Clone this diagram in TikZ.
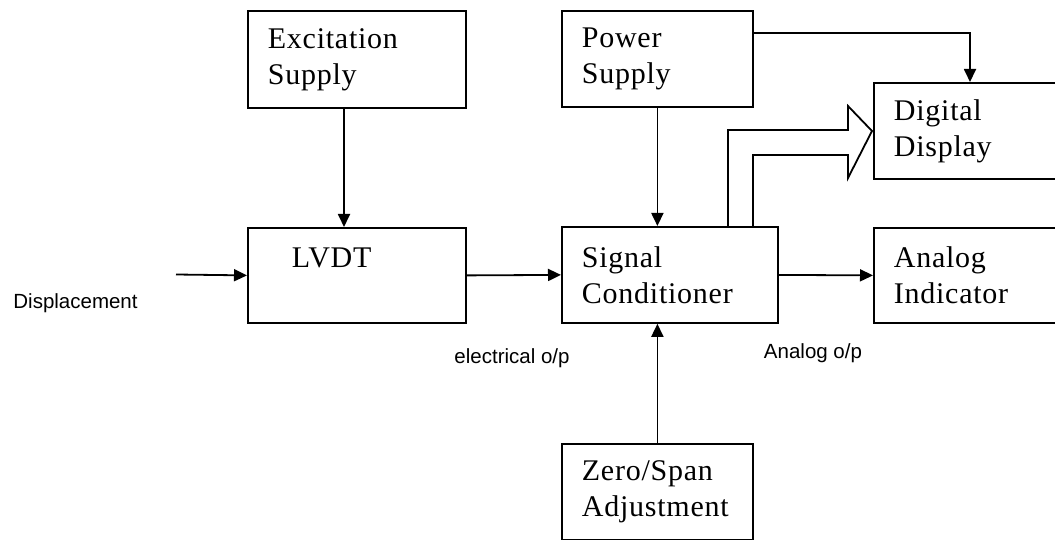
\documentclass[tikz,border=0pt]{standalone}
\usepackage{fontspec}
\setmainfont{Liberation Serif}[LetterSpace=2.5]
\newfontfamily\labfont{Liberation Sans}
\usetikzlibrary{arrows.meta,calc}
\begin{document}
\begin{tikzpicture}[x=1pt,y=-1pt,
  blk/.style={draw, line width=1.8pt, anchor=north west, align=left,
    inner xsep=20pt, inner ysep=0pt, font=\fontsize{30}{36}\selectfont},
  con/.style={line width=1.8pt, -{Triangle[length=13pt,width=12pt]}},
  lab/.style={font=\labfont\fontsize{20.5}{24}\selectfont, inner sep=0pt, anchor=base}]
\useasboundingbox[fill=white] (0,0) rectangle (1055,540);

% blocks
\node[blk, text width=178pt, minimum height=97pt] (ex) at (247,10) {Excitation\\Supply};
\node[blk, text width=151pt, minimum height=96pt] (ps) at (561,10) {Power\\Supply};
\node[blk, text width=178pt, minimum height=95pt] (lv) at (247,227) {\hspace*{24pt}LVDT\\\mbox{}};
\node[blk, text width=176pt, minimum height=96pt] (sc) at (561,226) {Signal\\Conditioner};
\node[blk, text width=151pt, minimum height=96pt] (zs) at (561,443) {Zero/Span\\Adjustment};
\node[blk, text width=147pt, minimum height=96pt] (dd) at (873,82) {Digital\\Display};
\node[blk, text width=147pt, minimum height=95pt] (ai) at (873,227) {Analog\\Indicator};

% helper coordinates
\coordinate (cx) at (344,0);
\coordinate (d0) at (176,274.5);
\coordinate (pd) at (970,33);
\coordinate (ha) at (728,0);
\coordinate (hb) at (753,0);

% connectors
\draw[con] (ex.south -| cx) -- (lv.north -| cx);
\draw[con] (d0) -- (lv.west);
\draw[con] (lv.east) -- (sc.west);
\draw[con] (ps.south) -- (ps.south |- sc.north);
\draw[con] (zs.north) -- (zs.north |- sc.south);
\draw[con] (sc.east) -- (ai.west);
\draw[con] (ps.east |- pd) -- (pd) -- (pd |- dd.north);

% hollow (digital) arrow
\draw[line width=1.8pt, line join=miter]
  (sc.north -| ha) -- (728,130) -- (848,130) -- (848,106)
  -- (872,131) -- (848,178) -- (848,155) -- (753,155) -- (sc.north -| hb);

% labels
\node[lab] (disp) at (75.5,308) {Displacement};
\node[lab] (eo) at (512,363) {electrical o/p};
\node[lab] (ao) at (813,358) {Analog o/p};
\end{tikzpicture}
\end{document}
